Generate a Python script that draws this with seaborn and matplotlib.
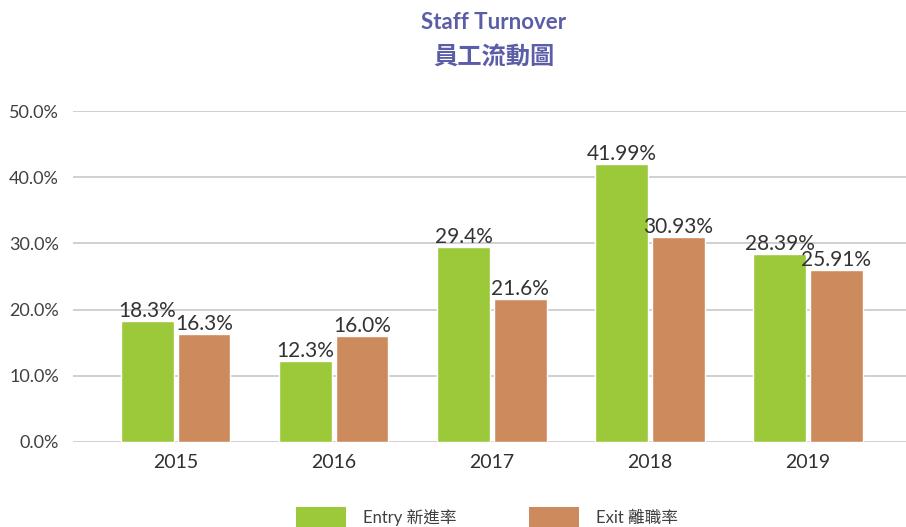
import pandas as pd
import matplotlib.pyplot as plt
import seaborn as sns
from matplotlib.patches import Patch

years = ['2015', '2016', '2017', '2018', '2019']
entry_rate = [18.3, 12.3, 29.4, 41.99, 28.39]
exit_rate = [16.3, 16.0, 21.6, 30.93, 25.91]
entry_labels = ['18.3%', '12.3%', '29.4%', '41.99%', '28.39%']
exit_labels = ['16.3%', '16.0%', '21.6%', '30.93%', '25.91%']
series_names = ['Entry 新進率', 'Exit 離職率']
colors = ['#9BC93A', '#CD8A5C']

df = pd.DataFrame({
    'year': years * 2,
    'rate': entry_rate + exit_rate,
    'series': [series_names[0]] * len(years) + [series_names[1]] * len(years),
})

sns.set_style('white')
plt.rcParams['font.family'] = ['Lato', 'Noto Sans CJK TC', 'DejaVu Sans']

fig = plt.figure(figsize=(9.06, 5.27), dpi=100)
ax = fig.add_axes([73 / 906, 1 - 442 / 527, (906 - 73) / 906, (442 - 111) / 527])

sns.barplot(data=df, x='year', y='rate', hue='series', palette=colors,
            width=0.715, gap=0.065, ax=ax, legend=False, saturation=1)

ax.set_ylim(0, 50)
ax.set_xlim(-0.65, 4.62)
ax.set_yticks([0, 10, 20, 30, 40, 50])
ax.set_yticklabels([f'{v:.1f}%' for v in [0, 10, 20, 30, 40, 50]], fontsize=13, color='#404040')
ax.tick_params(axis='x', labelsize=14, labelcolor='#303030', length=0, pad=9)
ax.tick_params(axis='y', length=0, pad=10)
ax.yaxis.grid(True, color='#c8c8c8', linewidth=1.2)
ax.set_axisbelow(True)
for s in ax.spines.values():
    s.set_visible(False)
ax.set_xlabel('')
ax.set_ylabel('')

for cont, labels in zip(ax.containers, [entry_labels, exit_labels]):
    ax.bar_label(cont, labels=labels, padding=0, fontsize=15, color='#333333')

fig.text(0.545, 0.957, 'Staff Turnover', ha='center', va='center',
         fontsize=16, fontweight='bold', color='#5B5EA6')
fig.text(0.545, 0.89, '員工流動圖', ha='center', va='center',
         fontsize=17.5, fontweight='bold', color='#5B5EA6',
         family=['Noto Sans CJK TC', 'DejaVu Sans'])

handles = [Patch(facecolor=c, edgecolor='none') for c in colors]
fig.legend(handles, series_names, loc='lower center', bbox_to_anchor=(0.5375, -0.03),
           ncol=2, frameon=False, fontsize=12, handlelength=3.0, handleheight=1.5,
           columnspacing=4.4, handletextpad=1.0, labelcolor='#404040')

plt.savefig('out.png', dpi=100)
